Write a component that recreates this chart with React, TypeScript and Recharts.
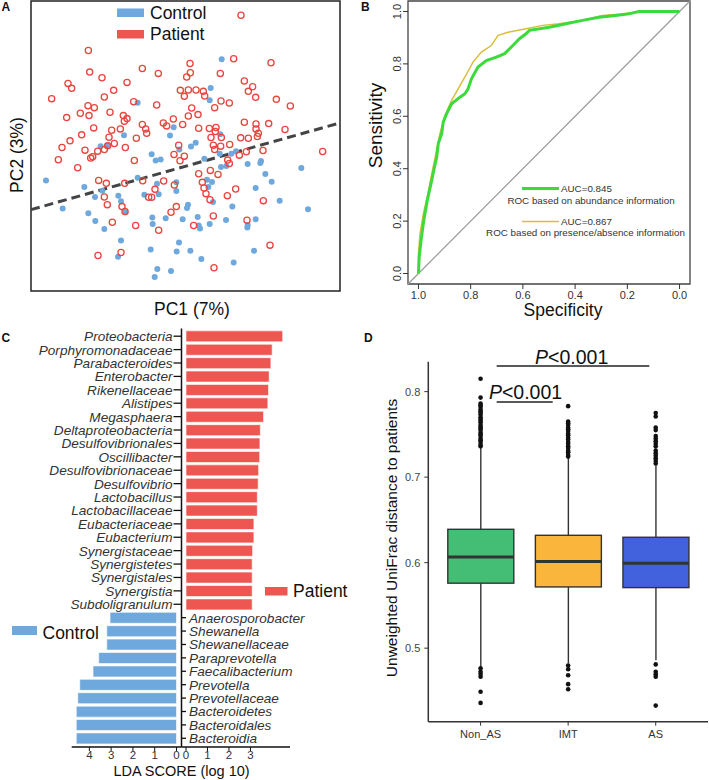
import React from 'react';
import {
  ScatterChart, Scatter, XAxis, YAxis, ReferenceArea, ReferenceLine,
  LineChart, Line, BarChart, Bar, ComposedChart,
} from 'recharts';

const FONT = '"Liberation Sans", Arial, Helvetica, sans-serif';

// ---------------- Panel A: PCA ----------------
const controlPC: [number, number][] = [
  [1.09, 3.25], [0.76, 2.38], [0.73, 2.01], [-1.43, 1.94], [-0.35, 1.2], [-0.46, 0.95], [-1.84, 0.96],
  [-2.54, 0.63], [-2.34, 0.64], [-1.01, 0.39], [-0.89, 0.2], [-0.74, 0.23], [-0.18, 0.53], [0.17, 0.62],
  [0.31, 0.73], [1.05, 0.99], [0.57, 0.25], [1.03, 0.4], [1.38, 0.4], [1.52, 0.48], [1.87, 0.09],
  [2.27, 0.18], [2.25, 0.12], [3.48, -0.03], [2.4, -0.21], [2.59, -0.44], [1.23, 0.03], [1.07, 0.0],
  [-4.18, -0.4], [-3.03, -0.6], [-2.49, -0.71], [-2.71, -0.9], [-1.43, -0.32], [-0.85, -0.5], [-0.27, -0.46],
  [-0.27, -0.72], [-1.23, -0.83], [-0.8, -0.82], [-2.01, -0.86], [-1.93, -1.03], [-1.8, -1.36], [0.65, -0.38],
  [0.8, -0.45], [0.69, -0.6], [0.83, -1.05], [1.41, -1.19], [2.11, -0.63], [2.83, -1.01], [3.68, -1.27],
  [-3.68, -1.25], [-2.91, -1.39], [-2.7, -1.62], [-2.43, -1.86], [-0.99, -1.52], [-0.98, -1.71], [-0.59, -1.54],
  [-0.08, -1.57], [0.08, -1.13], [0.05, -1.23], [0.37, -1.5], [0.4, -1.76], [0.44, -1.85], [0.73, -1.71],
  [1.22, -1.59], [1.87, -1.74], [1.86, -1.82], [2.11, -1.57], [-1.93, -2.21], [-1.04, -2.48], [-0.19, -2.27],
  [-0.26, -2.54], [0.15, -2.52], [-2.02, -2.7], [0.48, -2.77], [1.45, -2.87], [2.06, -2.52], [-0.84, -3.07],
  [-0.43, -3.13], [-0.92, -3.31],
];
const patientPC: [number, number][] = [
  [1.67, 4.57], [-2.91, 3.51], [1.45, 3.26], [2.57, 3.14], [0.14, 3.12], [-1.29, 2.97], [-2.87, 2.86],
  [-0.81, 2.82], [0.15, 2.84], [0.04, 2.71], [1.05, 2.82], [-2.5, 2.69], [-1.75, 2.55], [1.77, 2.59],
  [-3.52, 2.52], [-3.41, 2.37], [2.02, 2.42], [1.89, 2.28], [2.11, 2.1], [-2.15, 2.31], [-0.15, 2.31],
  [0.09, 2.32], [0.32, 2.32], [0.54, 2.28], [-0.03, 2.13], [-2.43, 2.11], [-4.01, 2.06], [0.58, 2.14],
  [2.73, 2.04], [1.07, 1.99], [1.32, 1.93], [-1.55, 1.97], [-0.86, 1.87], [0.88, 1.79], [3.15, 1.84],
  [-2.92, 1.85], [-2.73, 1.79], [-3.15, 1.62], [-2.89, 1.55], [-2.26, 1.65], [-3.56, 1.49], [0.19, 1.78],
  [0.38, 1.58], [-0.36, 1.45], [-0.08, 1.28], [-0.66, 1.33], [-0.56, 1.24], [0.09, 1.54], [-1.86, 1.55],
  [-1.75, 1.46], [-1.83, 1.38], [1.77, 1.35], [2.12, 1.3], [2.5, 1.31], [2.99, 1.13], [-1.29, 1.28],
  [-1.19, 1.15], [-1.16, 1.02], [-1.95, 1.15], [-2.21, 1.11], [-2.75, 1.18], [-3.11, 0.97], [-3.46, 0.79],
  [-1.47, 0.87], [-2.29, 0.9], [-2.13, 0.71], [-2.33, 0.64], [2.12, 1.15], [2.19, 1.02], [2.16, 0.92],
  [1.66, 0.88], [1.89, 0.87], [0.4, 1.17], [0.72, 1.16], [0.92, 1.19], [0.9, 1.07], [0.77, 0.89],
  [1.08, 0.89], [0.84, 0.66], [0.88, 0.53], [1.06, 0.63], [1.33, 0.68], [-3.7, 0.59], [-3.01, 0.51],
  [-2.43, 0.53], [-2.63, 0.48], [-2.78, 0.31], [-2.84, 0.27], [-1.8, 0.59], [-0.2, 0.66], [-0.34, 0.38],
  [-0.03, 0.33], [-0.16, 0.19], [-1.53, 0.2], [-3.81, 0.22], [-3.23, -0.02], [1.83, 0.46], [2.33, 0.5],
  [4.12, 0.47], [1.27, 0.21], [1.32, 0.11], [1.62, 0.36], [0.4, -0.2], [0.75, -0.1], [0.98, -0.22],
  [-2.6, -0.4], [-2.37, -0.49], [-1.82, -0.49], [-1.28, -0.41], [-0.65, -0.42], [-0.33, -0.54], [-0.91, -0.67],
  [-1.1, -0.91], [-1.01, -0.91], [-2.43, -0.9], [-2.34, -1.13], [0.51, -0.46], [0.56, -0.63], [0.62, -0.8],
  [0.74, -0.98], [1.26, -0.86], [1.51, -0.66], [2.34, -1.01], [-1.9, -1.19], [-1.81, -1.34], [-0.27, -1.19],
  [-0.43, -1.36], [0.84, -1.47], [0.25, -1.76], [-0.8, -1.9], [-1.49, -1.76], [-2.19, -1.66], [1.85, -1.6],
  [-2.62, -2.66], [-1.93, -2.57], [2.54, -2.35], [0.86, -3.03],
];
const pcaSplitLine: [number, number][] = [[-4.63, -1.28], [4.64, 1.33]];
const pc1Domain: [number, number] = [-4.63, 4.64];
const pc2Domain: [number, number] = [-3.73, 5.0];

// ---------------- Panel B: ROC ----------------
const abundSpec = [1.0, 0.997, 0.99, 0.98, 0.966, 0.949, 0.94, 0.93, 0.924, 0.911, 0.905, 0.892, 0.873, 0.841, 0.822, 0.81, 0.797, 0.772, 0.74, 0.702, 0.67, 0.651, 0.632, 0.613, 0.588, 0.575, 0.499, 0.435, 0.372, 0.308, 0.245, 0.194, 0.156, 0];
const abundSens = [0, 0.064, 0.127, 0.2, 0.28, 0.356, 0.4, 0.445, 0.496, 0.534, 0.578, 0.61, 0.648, 0.673, 0.686, 0.705, 0.743, 0.788, 0.813, 0.826, 0.839, 0.858, 0.877, 0.896, 0.915, 0.928, 0.94, 0.953, 0.966, 0.978, 0.985, 0.991, 1.0, 1.0];
const presSpec = [1.0, 1.0, 0.994, 0.981, 0.966, 0.949, 0.933, 0.918, 0.898, 0.873, 0.848, 0.822, 0.791, 0.759, 0.721, 0.695, 0.657, 0.588, 0.524, 0.461, 0.372, 0.296, 0.207, 0.156, 0];
const presSens = [0, 0.076, 0.152, 0.229, 0.292, 0.381, 0.457, 0.534, 0.604, 0.661, 0.705, 0.75, 0.807, 0.845, 0.87, 0.909, 0.921, 0.934, 0.947, 0.953, 0.966, 0.985, 0.991, 1.0, 1.0];
const rocTicks = [1.0, 0.8, 0.6, 0.4, 0.2, 0.0];
const rocDomain: [number, number] = [-0.04, 1.04];

// ---------------- Panel C: LDA ----------------
const patientTaxa = ['Proteobacteria', 'Porphyromonadaceae', 'Parabacteroides', 'Enterobacter', 'Rikenellaceae', 'Alistipes', 'Megasphaera', 'Deltaproteobacteria', 'Desulfovibrionales', 'Oscillibacter', 'Desulfovibrionaceae', 'Desulfovibrio', 'Lactobacillus', 'Lactobacillaceae', 'Eubacteriaceae', 'Eubacterium', 'Synergistaceae', 'Synergistetes', 'Synergistales', 'Synergistia', 'Subdoligranulum'];
const patientLDA = [4.5, 4.01, 3.95, 3.87, 3.84, 3.81, 3.61, 3.46, 3.44, 3.43, 3.38, 3.36, 3.32, 3.32, 3.16, 3.16, 3.1, 3.08, 3.08, 3.08, 3.08];
const controlTaxa = ['Anaerosporobacter', 'Shewanella', 'Shewanellaceae', 'Paraprevotella', 'Faecalibacterium', 'Prevotella', 'Prevotellaceae', 'Bacteroidetes', 'Bacteroidales', 'Bacteroidia'];
const controlLDA = [3.05, 3.2, 3.2, 3.57, 3.83, 4.44, 4.53, 4.6, 4.6, 4.6];
const controlTicks = [0, 1, 2, 3, 4];
const patientTicks = [0, 1, 2, 3];

// ---------------- Panel D: boxplots ----------------
const groups = ['Non_AS', 'IMT', 'AS'];
const q1s = [0.576, 0.5716, 0.5708];
const medians = [0.6067, 0.6012, 0.5993];
const q3s = [0.639, 0.632, 0.6297];
const whiskerLows = [0.478, 0.482, 0.486];
const whiskerHighs = [0.734, 0.722, 0.714];
const outliersNonAS = [0.736, 0.738, 0.741, 0.743, 0.745, 0.748, 0.75, 0.752, 0.755, 0.757, 0.759, 0.761, 0.764, 0.766, 0.768, 0.77, 0.773, 0.775, 0.777, 0.779, 0.782, 0.784, 0.786, 0.793, 0.815, 0.4765, 0.4725, 0.4698, 0.4667, 0.449, 0.436];
const outliersIMT = [0.724, 0.726, 0.729, 0.731, 0.734, 0.736, 0.739, 0.741, 0.744, 0.746, 0.749, 0.751, 0.754, 0.756, 0.758, 0.761, 0.763, 0.765, 0.783, 0.4796, 0.4754, 0.4684, 0.4579, 0.452];
const outliersAS = [0.716, 0.719, 0.722, 0.725, 0.728, 0.731, 0.736, 0.739, 0.742, 0.745, 0.748, 0.755, 0.758, 0.771, 0.775, 0.481, 0.4725, 0.4695, 0.4667, 0.4328];
const distTicks = [0.5, 0.6, 0.7, 0.8];
const distDomain: [number, number] = [0.414, 0.835];

// ---------------- styles ----------------
const CONTROL_BLUE = '#6FA8DC';
const PATIENT_RED = '#EE5652';
const CIRCLE_RED = '#E8463E';
const ROC_GREEN = '#3CDB3C';
const ROC_GOLD = '#D8BE3E';
const BOX_COLORS = ['#45BE75', '#F9B53C', '#4162DC'];

// derived tables
const controlRows = controlPC.map(([x, y]) => ({ x, y }));
const patientRows = patientPC.map(([x, y]) => ({ x, y }));
const abundRows = abundSpec.map((s, i) => ({ spec: s, sens: abundSens[i] }));
const presRows = presSpec.map((s, i) => ({ spec: s, sens: presSens[i] }));
const ldaRows = [
  ...patientTaxa.map((t, i) => ({ taxon: t, patient: patientLDA[i] })),
  ...controlTaxa.map((t, i) => ({ taxon: t, control: controlLDA[i] })),
];
const patientSet = new Set(patientTaxa);
const boxRows = groups.map((g, i) => ({
  group: g, q1: q1s[i], median: medians[i], q3: q3s[i], lo: whiskerLows[i], hi: whiskerHighs[i],
  box: [q1s[i], q3s[i]],
}));
const outlierRows = [
  ...outliersNonAS.map((v) => ({ group: groups[0], value: v })),
  ...outliersIMT.map((v) => ({ group: groups[1], value: v })),
  ...outliersAS.map((v) => ({ group: groups[2], value: v })),
];

const BlueDot = (p: any) => <circle cx={p.cx} cy={p.cy} r={3} fill={CONTROL_BLUE} />;
const RedRing = (p: any) => <circle cx={p.cx} cy={p.cy} r={3.1} fill="none" stroke={CIRCLE_RED} strokeWidth={1.3} />;
const BlackDot = (p: any) => <circle cx={p.cx} cy={p.cy} r={2.3} fill="#111" />;

const RotTick = (p: any) => {
  const { x, y, payload } = p;
  return (
    <text x={x} y={y} transform={`rotate(-90 ${x} ${y})`} textAnchor="middle" fontSize={11} fill="#333" fontFamily={FONT}>
      {Number(payload.value).toFixed(1)}
    </text>
  );
};

const TaxonTick = (p: any) => {
  const { x, y, payload } = p;
  const isPatient = patientSet.has(payload.value);
  return (
    <g>
      <line x1={isPatient ? x - 8 : x} x2={isPatient ? x : x + 4.5} y1={y} y2={y} stroke="#111" strokeWidth={1.3} />
      <text x={isPatient ? x - 9 : x + 7.5} y={y} dy="0.36em" textAnchor={isPatient ? 'end' : 'start'}
        fontStyle="italic" fontSize={13.6} fill="#333" fontFamily={FONT}>
        {payload.value}
      </text>
    </g>
  );
};

const BoxShape = (p: any) => {
  const { x, y, width, height, payload, index } = p;
  const { q1, q3, median, lo, hi } = payload;
  const toY = (v: number) => y + ((q3 - v) / (q3 - q1)) * height;
  const cx = x + width / 2;
  const st = '#333';
  return (
    <g>
      <line x1={cx} x2={cx} y1={toY(hi)} y2={toY(q3)} stroke={st} strokeWidth={1.4} />
      <line x1={cx} x2={cx} y1={toY(q1)} y2={toY(lo)} stroke={st} strokeWidth={1.4} />
      <rect x={x} y={toY(q3)} width={width} height={toY(q1) - toY(q3)} fill={BOX_COLORS[index % 3]} stroke={st} strokeWidth={1.4} />
      <line x1={x} x2={x + width} y1={toY(median)} y2={toY(median)} stroke={st} strokeWidth={3} />
    </g>
  );
};

const abs = (left: number, top: number): React.CSSProperties => ({ position: 'absolute', left, top });

export default function App() {
  const cMargin = { top: 8.5, bottom: 3 };
  return (
    <div style={{ position: 'absolute', left: 0, top: 0, width: 709, height: 780, background: '#fff', fontFamily: FONT, overflow: 'hidden' }}>
      {/* Panel A */}
      <div style={abs(0, 0)}>
        <ScatterChart width={345} height={300} margin={{ top: 1, right: 5, bottom: 9, left: 31 }}>
          <XAxis type="number" dataKey="x" domain={pc1Domain} hide />
          <YAxis type="number" dataKey="y" domain={pc2Domain} hide />
          <Scatter data={controlRows} shape={BlueDot} isAnimationActive={false} />
          <Scatter data={patientRows} shape={RedRing} isAnimationActive={false} />
          <ReferenceLine segment={[{ x: pcaSplitLine[0][0], y: pcaSplitLine[0][1] }, { x: pcaSplitLine[1][0], y: pcaSplitLine[1][1] }]}
            stroke="#444" strokeWidth={3} strokeDasharray="9 5" />
          <ReferenceArea x1={pc1Domain[0]} x2={pc1Domain[1]} y1={pc2Domain[0]} y2={pc2Domain[1]} fill="none" fillOpacity={0} stroke="#222" strokeWidth={1.5} />
        </ScatterChart>
      </div>

      {/* Panel B */}
      <div style={abs(350, 0)}>
        <LineChart width={359} height={320} margin={{ top: 1, right: 19, bottom: 6, left: 0 }}>
          <XAxis type="number" dataKey="spec" domain={rocDomain} reversed ticks={rocTicks} allowDataOverflow
            tickFormatter={(v: number) => v.toFixed(1)} axisLine={false} height={30} tickSize={5} tickMargin={2}
            tick={{ fontSize: 11, fill: '#333', fontFamily: FONT }} tickLine={{ stroke: '#333' }} />
          <YAxis type="number" dataKey="sens" domain={rocDomain} ticks={rocTicks} allowDataOverflow width={58}
            axisLine={false} tickSize={5} tickMargin={2} tick={RotTick} tickLine={{ stroke: '#333' }} />
          <ReferenceLine segment={[{ x: rocDomain[1], y: rocDomain[0] }, { x: rocDomain[0], y: rocDomain[1] }]} stroke="#9a9a9a" strokeWidth={1.2} />
          <Line data={presRows} dataKey="sens" type="linear" stroke={ROC_GOLD} strokeWidth={1.5} dot={false} isAnimationActive={false} />
          <Line data={abundRows} dataKey="sens" type="linear" stroke={ROC_GREEN} strokeWidth={3} dot={false} isAnimationActive={false} />
          <ReferenceArea x1={rocDomain[0]} x2={rocDomain[1]} y1={rocDomain[0]} y2={rocDomain[1]} fill="none" fillOpacity={0} stroke="#444" strokeWidth={1.3} />
        </LineChart>
      </div>

      {/* Panel C: control side */}
      <div style={abs(0, 320)}>
        <BarChart width={340} height={460} data={ldaRows} layout="vertical" barCategoryGap="10%"
          margin={{ top: cMargin.top, bottom: cMargin.bottom, left: 71.7, right: 158.5 }}>
          <YAxis type="category" dataKey="taxon" hide padding={{ top: 1, bottom: 2 }} />
          <XAxis type="number" domain={[0, 4.81]} reversed ticks={controlTicks} padding={{ left: 0, right: 5 }} height={30}
            axisLine={{ stroke: '#111', strokeWidth: 1.5 }} tickLine={{ stroke: '#111' }} tickSize={4} tickMargin={0}
            tick={{ fontSize: 11.5, fill: '#333', fontFamily: FONT }} />
          <Bar dataKey="control" fill={CONTROL_BLUE} stroke="#fff" strokeWidth={0.6} isAnimationActive={false} />
        </BarChart>
      </div>
      {/* Panel C: patient side */}
      <div style={abs(0, 320)}>
        <BarChart width={340} height={460} data={ldaRows} layout="vertical" barCategoryGap="10%"
          margin={{ top: cMargin.top, bottom: cMargin.bottom, left: 0, right: 50 }}>
          <YAxis type="category" dataKey="taxon" width={181.5} padding={{ top: 1, bottom: 2 }} interval={0}
            axisLine={{ stroke: '#111', strokeWidth: 1.5 }} tickLine={false} tickSize={0} tickMargin={0} tick={TaxonTick} />
          <XAxis type="number" domain={[0, 4.84]} ticks={patientTicks} padding={{ left: 4.5, right: 0 }} height={30}
            axisLine={{ stroke: '#111', strokeWidth: 1.5 }} tickLine={{ stroke: '#111' }} tickSize={4} tickMargin={0}
            tick={{ fontSize: 11.5, fill: '#333', fontFamily: FONT }} />
          <Bar dataKey="patient" fill={PATIENT_RED} stroke="#fff" strokeWidth={0.6} isAnimationActive={false} />
        </BarChart>
      </div>

      {/* Panel D */}
      <div style={abs(360, 340)}>
        <ComposedChart width={349} height={420} data={boxRows} margin={{ top: 21.7, right: 1, bottom: 0, left: 0 }}>
          <XAxis type="category" dataKey="group" allowDuplicatedCategory={false} padding={{ left: 8.5, right: 8.5 }} height={38.3}
            axisLine={{ stroke: '#333', strokeWidth: 1.5 }} tickLine={{ stroke: '#333' }} tickSize={4} tickMargin={4}
            tick={{ fontSize: 11, fill: '#333', fontFamily: FONT }} />
          <YAxis type="number" domain={distDomain} ticks={distTicks} width={68.3} allowDataOverflow
            axisLine={{ stroke: '#333', strokeWidth: 1.5 }} tickLine={{ stroke: '#333' }} tickSize={4} tickMargin={4}
            tick={{ fontSize: 11, fill: '#444', fontFamily: FONT }} />
          <Bar dataKey="box" barSize={66} shape={BoxShape} isAnimationActive={false} />
          <Scatter data={outlierRows} dataKey="value" shape={BlackDot} isAnimationActive={false} />
        </ComposedChart>
      </div>

      {/* Annotations */}
      <svg width={709} height={780} style={{ position: 'absolute', left: 0, top: 0, pointerEvents: 'none' }} fontFamily={FONT}>
        <g fontWeight="bold" fontSize={12} fill="#111">
          <text x={1.5} y={11}>A</text>
          <text x={361} y={11}>B</text>
          <text x={1.5} y={342}>C</text>
          <text x={364} y={342}>D</text>
        </g>
        {/* A legend */}
        <rect x={117} y={8.5} width={27} height={8.5} fill={CONTROL_BLUE} />
        <text x={150} y={19.3} fontSize={17.5} fill="#111">Control</text>
        <rect x={117} y={30} width={27} height={8.5} fill={PATIENT_RED} />
        <text x={150} y={39.5} fontSize={17.5} fill="#111">Patient</text>
        <text x={192} y={315} fontSize={17.5} fill="#111" textAnchor="middle">PC1 (7%)</text>
        <text x={22.5} y={155} fontSize={17.5} fill="#111" textAnchor="middle" transform="rotate(-90 22.5 155)">PC2 (3%)</text>

        {/* B texts */}
        <text x={382} y={125.5} fontSize={19} fill="#111" textAnchor="middle" transform="rotate(-90 382 125.5)">Sensitivity</text>
        <text x={563} y={316} fontSize={17.5} fill="#111" textAnchor="middle">Specificity</text>
        <line x1={522} x2={559} y1={188.5} y2={188.5} stroke={ROC_GREEN} strokeWidth={3} />
        <text x={561} y={192} fontSize={9.8} fill="#333">AUC=0.845</text>
        <text x={591} y={204} fontSize={9.8} fill="#333" textAnchor="middle">ROC based on abundance information</text>
        <line x1={522} x2={559} y1={221.5} y2={221.5} stroke={ROC_GOLD} strokeWidth={1.5} />
        <text x={561} y={225} fontSize={9.8} fill="#333">AUC=0.867</text>
        <text x={585.5} y={235.5} fontSize={9.8} fill="#333" textAnchor="middle">ROC based on presence/absence information</text>

        {/* C legends */}
        <rect x={265} y={587} width={22.5} height={8.5} fill={PATIENT_RED} />
        <text x={293} y={597} fontSize={17.5} fill="#111">Patient</text>
        <rect x={12} y={626} width={25} height={9} fill={CONTROL_BLUE} />
        <text x={42.5} y={638.5} fontSize={17.5} fill="#111">Control</text>
        <text x={181.5} y={776} fontSize={14.5} fill="#111" textAnchor="middle">LDA SCORE (log 10)</text>

        {/* D annotations */}
        <text x={396.5} y={538} fontSize={15.5} fill="#111" textAnchor="middle" transform="rotate(-90 396.5 538)">Unweighted UniFrac distance to patients</text>
        <line x1={496.7} x2={649.3} y1={366} y2={366} stroke="#222" strokeWidth={1.5} />
        <text x={571.7} y={363.5} fontSize={19.5} fill="#111" textAnchor="middle"><tspan fontStyle="italic">P</tspan>&lt;0.001</text>
        <line x1={496.7} x2={552.7} y1={402} y2={402} stroke="#222" strokeWidth={1.5} />
        <text x={525.5} y={399} fontSize={19.5} fill="#111" textAnchor="middle"><tspan fontStyle="italic">P</tspan>&lt;0.001</text>
      </svg>
    </div>
  );
}
